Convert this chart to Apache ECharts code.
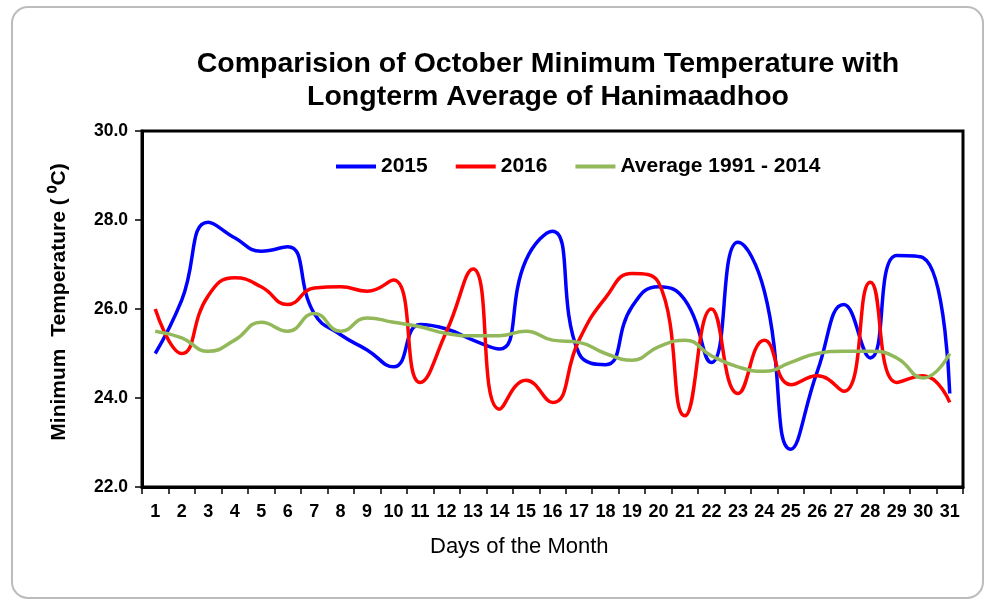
<!DOCTYPE html>
<html>
<head>
<meta charset="utf-8">
<script src="https://cdn.jsdelivr.net/npm/echarts@6/dist/echarts.min.js"></script>
<style>
  html, body { margin: 0; padding: 0; background: #fff; }
  #chart { width: 986px; height: 601px; }
</style>
</head>
<body>
<div id="chart"></div>
<script>
(function() {
    var myChart = echarts.init(document.getElementById('chart'));

    // days 1..31
    var days = [];
    for (var d = 1; d <= 31; d++) days.push(String(d));

    // minimum temperature
    var t2015 = [25.0, 26.2, 27.95, 27.6, 27.3, 27.4, 25.9, 25.42, 25.08, 24.7,
        25.65, 25.55, 25.3, 25.1, 27.1, 27.75, 25.0, 24.75, 26.05, 26.5,
        26.2, 24.8, 27.5, 26.4, 22.85, 24.6, 26.1, 24.9, 27.2, 27.15, 24.1];
    var t2016 = [26.0, 25.0, 26.3, 26.7, 26.5, 26.1, 26.47, 26.5, 26.4, 26.65,
        24.35, 25.5, 26.9, 23.75, 24.4, 23.9, 25.3, 26.25, 26.8, 26.6,
        23.6, 26.0, 24.1, 25.3, 24.3, 24.5, 24.15, 26.6, 24.35, 24.5, 23.9];
    var tAvg = [25.5, 25.35, 25.05, 25.3, 25.7, 25.5, 25.9, 25.5, 25.8, 25.7,
        25.6, 25.45, 25.4, 25.4, 25.5, 25.3, 25.25, 25.0, 24.85, 25.15,
        25.3, 24.95, 24.7, 24.6, 24.8, 25.0, 25.05, 25.05, 24.9, 24.45, 25.0];

    var font = 'Liberation Sans, Arial, sans-serif';

    function line(name, data, color) {
        return {
            name: name,
            type: 'line',
            data: data,
            smooth: 0.5,
            symbol: 'none',
            lineStyle: { color: color, width: 3.5 },
            itemStyle: { color: color }
        };
    }

    var option = {
        backgroundColor: '#fff',
        animation: false,
        title: {
            text: 'Comparision of October Minimum Temperature with\nLongterm Average of Hanimaadhoo',
            left: 543,
            textAlign: 'center',
            top: 43,
            textStyle: {
                fontFamily: font,
                fontWeight: 'bold',
                fontSize: 28.5,
                lineHeight: 33,
                color: '#000'
            }
        },
        graphic: [{
            type: 'rect',
            shape: { x: 12, y: 7, width: 971, height: 591, r: 16 },
            style: { fill: 'none', stroke: '#bcbcbc', lineWidth: 2 },
            z: -1
        }, {
            type: 'text',
            left: 430,
            top: 536,
            style: {
                text: 'Days of the Month',
                font: '22px ' + font,
                fill: '#000'
            }
        }],
        legend: {
            left: 331,
            top: 151,
            icon: 'rect',
            itemWidth: 40,
            itemHeight: 4,
            itemGap: 28,
            textStyle: {
                fontFamily: font,
                fontWeight: 'bold',
                fontSize: 21,
                color: '#000'
            },
            data: ['2015', '2016', 'Average 1991 - 2014']
        },
        grid: {
            left: 142,
            top: 131,
            right: 23,
            bottom: 114,
            show: true,
            borderColor: '#000',
            borderWidth: 3,
            containLabel: false
        },
        xAxis: {
            type: 'category',
            data: days,
            boundaryGap: true,
            axisLine: { lineStyle: { color: '#000', width: 3 } },
            axisTick: { show: true, interval: 0, length: 7, lineStyle: { color: '#000', width: 1.5 } },
            axisLabel: {
                interval: 0,
                margin: 16,
                color: '#000',
                fontFamily: font,
                fontWeight: 'bold',
                fontSize: 18
            },
            splitLine: { show: false }
        },
        yAxis: {
            type: 'value',
            min: 22,
            max: 30,
            interval: 2,
            name: 'Minimum  Temperature ( \u2070C)',
            nameLocation: 'middle',
            nameGap: 72,
            nameTextStyle: {
                fontFamily: font,
                fontWeight: 'bold',
                fontSize: 21,
                color: '#000',
                padding: [0, 0, 0, 14]
            },
            axisLine: { show: true, lineStyle: { color: '#000', width: 3 } },
            axisTick: { show: true, length: 7, lineStyle: { color: '#000', width: 1.5 } },
            axisLabel: {
                margin: 14,
                color: '#000',
                fontFamily: font,
                fontWeight: 'bold',
                fontSize: 17.5,
                formatter: function(v) { return v.toFixed(1); }
            },
            splitLine: { show: false }
        },
        series: [
            line('2015', t2015, '#0000ff'),
            line('2016', t2016, '#ff0000'),
            line('Average 1991 - 2014', tAvg, '#92b85a')
        ]
    };
    myChart.setOption(option);
    window.addEventListener('resize', function() {
        myChart.resize();
    });
})();
</script>
</body>
</html>
